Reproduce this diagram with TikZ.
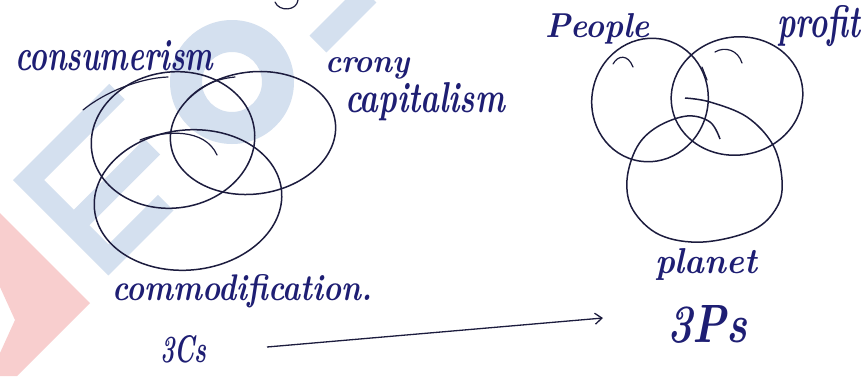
\documentclass[tikz,border=0pt]{standalone}
\usepackage{graphicx}
\usetikzlibrary{arrows.meta}
\definecolor{ink}{RGB}{28,28,62}
\definecolor{pen}{RGB}{30,30,115}
\definecolor{wmblue}{RGB}{212,224,239}
\definecolor{wmpink}{RGB}{248,206,206}
\newcommand{\hw}[3]{\resizebox{#1pt}{#2pt}{\bfseries\itshape #3}}
\begin{document}
\begin{tikzpicture}[x=1pt,y=-1pt,
  venn/.style={draw=ink, line width=1.5pt},
  hook/.style={draw=ink, line width=1.2pt, line cap=round},
  lbl/.style={inner sep=0pt, outer sep=0pt, anchor=base west, text=pen},
  wm/.style={fill=wmblue},
]
\useasboundingbox (0,0) rectangle (863,376);
\fill[white] (0,0) rectangle (863,376);
% watermark
\begin{scope}
\clip (0,0) rectangle (863,376);
\fill[wmpink] (0,213) -- (90,303) -- (17,376) -- (0,376) -- (0,353) -- (15,320) -- (0,287) -- cycle;
\begin{scope}[shift={(13,180)}, rotate=45]
 \fill[wm] (0,0) -- (136,0) -- (136,22) -- (22,22) -- (22,64) -- (122,64) -- (122,86) -- (22,86) -- (22,113) -- (92,113) -- (92,135) -- (0,135) -- cycle;
\end{scope}
\fill[wm, even odd rule] (232,82) circle[radius=62pt] (232,82) circle[radius=30pt];
\draw[wmblue, line width=24pt] (318,44) -- (368,-6);
\end{scope}
% left Venn
\draw[venn, rotate around={8:(173,140)}] (173,140) ellipse [x radius=82pt, y radius=68pt];
\draw[venn, rotate around={8:(253,133)}] (253,133) ellipse [x radius=83pt, y radius=61pt];
\draw[venn, rotate around={6:(188,200)}] (188,200) ellipse [x radius=94pt, y radius=70pt];
\draw[hook] (83,110) .. controls (105,92) and (140,78) .. (168,77);
\draw[hook] (187,100) .. controls (200,86) and (215,79) .. (235,77);
\draw[hook] (140,140) .. controls (165,130) and (205,128) .. (217,155);
\draw[hook] (298,0) .. controls (297,11) and (279,12) .. (275,2);
% right Venn
\draw[venn, rotate around={-15:(650,100)}] (650,100) ellipse [x radius=58pt, y radius=62pt];
\draw[venn, rotate around={10:(737,96)}] (737,96) ellipse [x radius=66pt, y radius=59pt];
\draw[venn] plot[smooth, tension=0.6] coordinates {(685,98) (710,102) (747,117) (773,145) (782,180) (777,207) (753,230) (703,242) (660,235) (633,210) (627,180) (637,147) (657,127) (687,116) (710,122) (720,139)};
\draw[hook] (613,64) .. controls (618,55) and (628,54) .. (633,67);
\draw[hook] (715,52) .. controls (725,46) and (738,50) .. (742,63);
\draw[hook] (702,67) -- (707,80);
% labels
\node[lbl] (cons) at (15,70) {\hw{198}{30}{consumerism}};
\node[lbl] (crony) at (325,72) {\hw{85}{15}{crony}};
\node[lbl] (capi) at (345,112) {\hw{160}{30}{capitalism}};
\node[lbl] (comm) at (112,300) {\hw{260}{26}{commodification.}};
\node[lbl] (c3) at (160,362) {\hw{47}{27}{3Cs}};
\node[lbl] (peop) at (545,37) {\hw{105}{24}{People}};
\node[lbl] (prof) at (777,37) {\hw{83}{32}{profit}};
\node[lbl] (plan) at (655,273) {\hw{102}{25}{planet}};
\node[lbl] (p3) at (667,342) {\hw{80}{37}{3Ps}};
% arrow
\coordinate (as) at (267,347);
\coordinate (ae) at (603,318);
\draw[ink, line width=1.3pt, -{Straight Barb[length=7pt,width=11pt]}] (as) -- (ae);
\end{tikzpicture}
\end{document}
